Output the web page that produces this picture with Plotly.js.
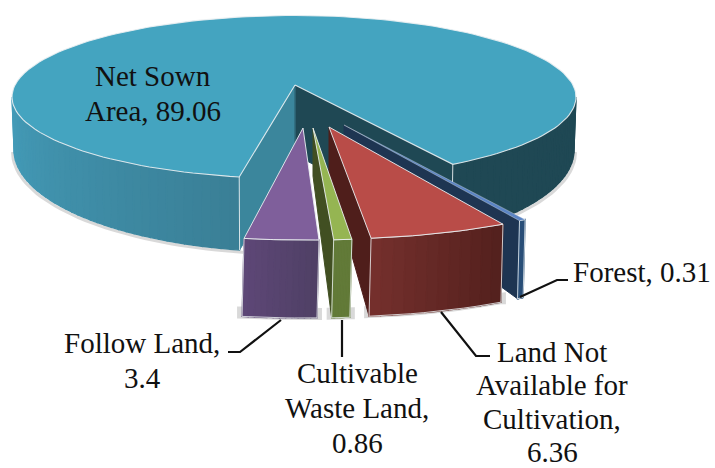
<!DOCTYPE html>
<html>
<head>
<meta charset="utf-8">
<script src="https://cdn.plot.ly/plotly-3.0.1.min.js"></script>
<style>html,body{margin:0;padding:0;background:#fff}#chart{width:715px;height:468px}</style>
</head>
<body>
<div id="chart"></div>
<script>
// Data
const categories = ["Net Sown Area", "Forest", "Land Not Available for Cultivation", "Cultivable Waste Land", "Follow Land"];
const values = [89.06, 0.31, 6.36, 0.86, 3.4];
const labelTexts = ["Net Sown<br>Area, 89.06", "Forest, 0.31", "Land Not<br>Available for<br>Cultivation,<br>6.36", "Cultivable<br>Waste Land,<br>0.86", "Follow Land,<br>3.4"];

// Drawing helpers
const traces = [];
const rad = d => d * Math.PI / 180;
const hex = c => [1, 3, 5].map(i => parseInt(c.substr(i, 2), 16));
const mix = (a, b, f) => { const A = hex(a), B = hex(b); return `rgb(${A.map((v, i) => Math.round(v + (B[i] - v) * f)).join(',')})`; };
function poly(pts, fill, line, width) {
  traces.push({
    type: 'scatter', mode: 'lines', x: pts.map(p => p[0]), y: pts.map(p => p[1]),
    fill: fill ? 'toself' : 'none', fillcolor: fill || undefined,
    line: { color: line || fill, width: width === undefined ? 1 : width },
    hoverinfo: 'skip', showlegend: false
  });
}
function arc(fn, a, b, n) { const o = []; for (let i = 0; i <= n; i++) o.push(fn(a + (b - a) * i / n)); return o; }
function wall(top, bot, a, b, n, c1, c2) {
  for (let i = 0; i < n; i++) {
    const s = a + (b - a) * i / n, e = a + (b - a) * (i + 1) / n;
    const col = mix(c1, c2, (i + .5) / n);
    poly([top(s), top(e), bot(e), bot(s), top(s)], col, col, 1.3);
  }
}
const EDGE = 'rgba(235,240,242,0.9)';
const SHADOW = 'rgba(120,120,120,0.28)';
const GLOW = 'rgba(130,130,130,0.30)';

// Main slice
const mainTop = t => [294 + 282 * Math.cos(rad(t)), 97 + 81.5 * Math.sin(rad(t))];
const mainBot = t => [294 + 280 * Math.cos(rad(t)), 150 + 102 * Math.sin(rad(t))];
const mainShadow = t => { const p = mainBot(t); return [p[0] + 1.5 * Math.cos(rad(t)), p[1] + 2]; };
const mainStart = 101.2;
const mainEnd = mainStart + values[0] * 3.6 * 0.981;
const V0 = [295, 85], V0b = [295, 155];

poly(arc(mainShadow, 100, 180, 40), null, SHADOW, 3);
poly(arc(mainShadow, 0, 55, 30), null, SHADOW, 3);
wall(mainTop, mainBot, 180, mainStart, 40, '#449dba', '#3a7f96');
wall(mainTop, mainBot, mainEnd - 360, 0, 30, '#1f4854', '#1f4854');
poly([V0, mainTop(mainEnd), mainBot(mainEnd), V0b, V0], '#1f4854');
poly([V0, mainTop(mainStart), mainBot(mainStart), V0b, V0], '#3b869c');
poly([mainTop(mainStart), mainBot(mainStart)], null, EDGE, 1);
poly([mainTop(mainEnd), mainBot(mainEnd)], null, EDGE, 1);
poly([V0, V0b], null, '#2a5a68', 1);
poly([V0].concat(arc(mainTop, mainStart, mainEnd, 160)).concat([V0]), '#44a4c0', EDGE, 1.1);

// Exploded slices
const pieces = [
  { i: 1, v: [344, 125], rx: 338, start: 57.6, top: '#5b84c4', side: '#1e3552', c1: '#2a4f78', c2: '#2a4f78' },
  { i: 2, v: [329, 127], rx: 350, start: 60.2, top: '#b94c48', side: '#4f1e1b', c1: '#75302d', c2: '#53201d' },
  { i: 3, v: [313, 128], rx: 338, start: 83.4, top: '#95b552', side: '#414f22', c1: '#627a38', c2: '#627a38' },
  { i: 4, v: [303, 128], rx: 352, start: 87.4, top: '#7f5f9b', side: '', c1: '#5e4777', c2: '#4f4065' }
];
pieces.forEach(p => {
  const end = p.start + values[p.i] * 3.6;
  const T = t => [p.v[0] + p.rx * Math.cos(rad(t)), p.v[1] + 112 * Math.sin(rad(t))];
  const B = t => { const q = T(t); return [q[0] - 2, q[1] + 78]; };
  const vb = [p.v[0], p.v[1] + 48];
  if (p.i !== 1) {
    const g = arc(B, p.start, end, 8).map(q => [q[0], q[1] + 2]);
    const a = g[0], b = g[g.length - 1];
    poly([[a[0] + 5, a[1] - 12], [a[0] + 5, a[1]]].concat(g).concat([[b[0] - 5, b[1]], [b[0] - 5, b[1] - 12]]), GLOW, 'rgba(130,130,130,0)', 0);
  }
  if (p.side) poly([p.v, T(end), B(end), vb, p.v], p.side);
  wall(T, B, end, p.start, 12, p.c1, p.c2);
  const outline = arc(T, p.start, end, 10).concat(arc(B, end, p.start, 10));
  outline.push(T(p.start));
  poly(outline, null, EDGE, 0.9);
  poly([p.v].concat(arc(T, p.start, end, 20)).concat([p.v]), p.top, EDGE, p.i === 1 ? 0.4 : 1);
});

// Leader lines
const LEADERS = [
  [[520, 297], [557, 280], [568, 280]],
  [[441, 312], [476, 356], [490, 356]],
  [[342, 320], [342, 357]],
  [[281, 320], [240, 352], [228, 352]]
];
LEADERS.forEach(l => poly(l, null, '#111', 2.2));

// Labels: centre x, first line y, line pitch
const LABEL_POS = [[153, 76, 35], [642, 272, 0], [552, 352, 33.3], [357, 373, 35], [142, 343, 35]];
const annotations = [];
labelTexts.forEach((t, i) => t.split('<br>').forEach((line, k) => annotations.push({
  x: LABEL_POS[i][0], y: LABEL_POS[i][1] + k * LABEL_POS[i][2], xref: 'x', yref: 'y', text: line, showarrow: false,
  align: 'center', xanchor: 'center', yanchor: 'middle',
  font: { family: '"Liberation Serif", serif', size: 29, color: '#111' }
})));

Plotly.newPlot('chart', traces, {
  width: 715, height: 468, margin: { l: 0, r: 0, t: 0, b: 0 },
  paper_bgcolor: '#fff', plot_bgcolor: '#fff', showlegend: false, hovermode: false,
  xaxis: { range: [0, 715], visible: false, fixedrange: true },
  yaxis: { range: [468, 0], visible: false, fixedrange: true },
  annotations
}, { staticPlot: true, displayModeBar: false });
</script>
</body>
</html>
